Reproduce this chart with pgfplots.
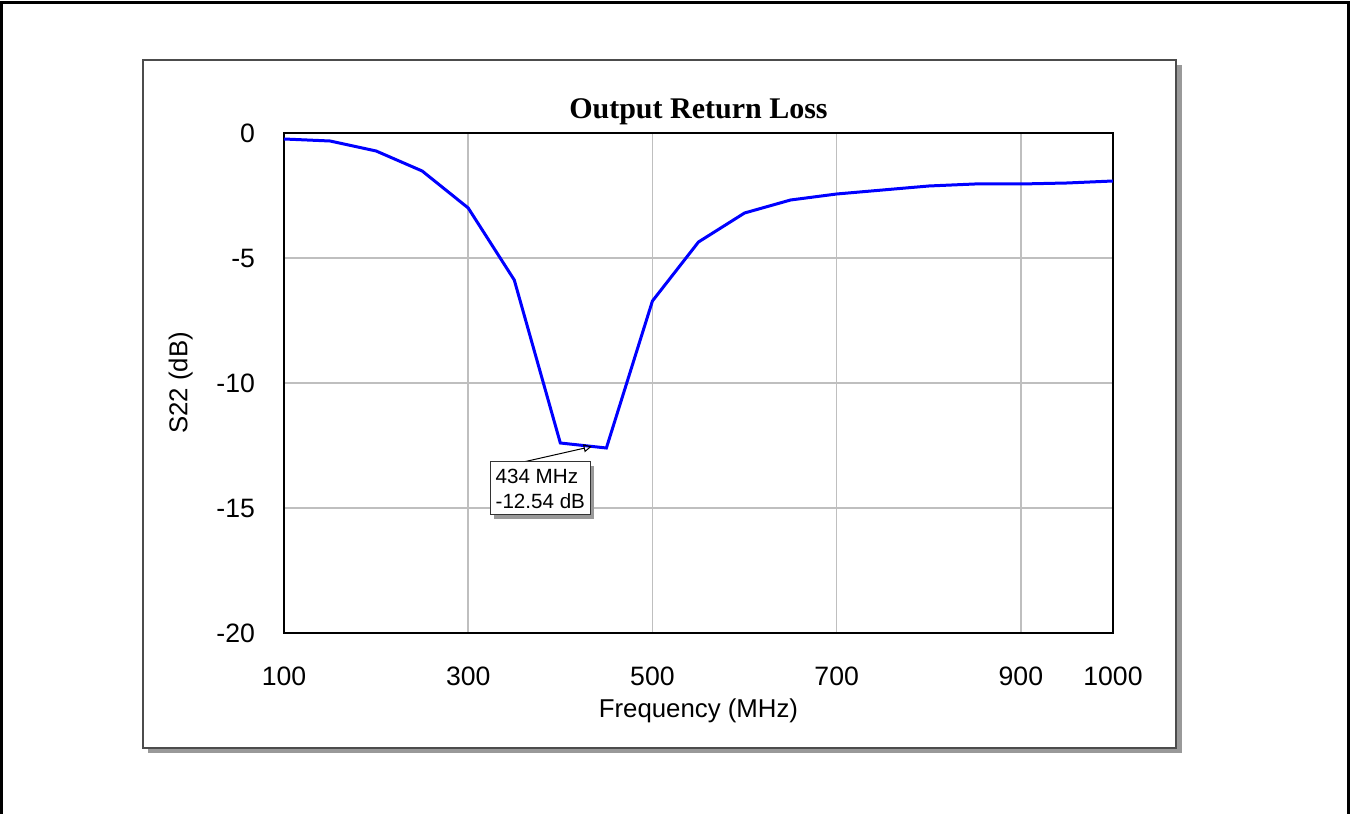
\documentclass[border=0pt]{standalone}
\usepackage{fontspec}
\setmainfont{Liberation Serif}
\setsansfont{Liberation Sans}
\usepackage{pgfplots}
\pgfplotsset{compat=1.18}
\usetikzlibrary{arrows.meta}
\begin{document}
\begin{tikzpicture}[x=1pt,y=1pt]
\useasboundingbox (0,0) rectangle (675,407);
\draw[line width=1.5pt] (0.75,0) -- (0.75,405.5) -- (674.25,405.5) -- (674.25,0);
\fill[black!40] (74,30.5) rectangle (591,374.5);
\draw[fill=white, draw=black!70, line width=0.7pt] (71.5,33) rectangle (588,377);
\begin{axis}[
  at={(142pt,90.5pt)}, anchor=south west,
  width=414.5pt, height=250pt, scale only axis,
  xmin=100, xmax=1000, ymin=-20, ymax=0,
  xtick={100,300,500,700,900,1000},
  ytick={-20,-15,-10,-5,0},
  grid=major,
  major grid style={draw=black!25, line width=0.75pt},
  major tick length=0pt,
  axis line style={line width=1pt},
  /pgf/number format/assume math mode=true,
  /pgf/number format/1000 sep={},
  ticklabel style={font=\fontsize{13.3}{15.5}\selectfont\sffamily},
  xticklabel style={yshift=-13.5pt},
  yticklabel style={xshift=-11pt},
  xlabel={Frequency (MHz)},
  ylabel={S22 (dB)},
  xlabel style={font=\fontsize{12.9}{15}\selectfont\sffamily, yshift=0.5pt},
  ylabel style={font=\fontsize{12.9}{15}\selectfont\sffamily, yshift=5pt},
  title={\textbf{Output Return Loss}},
  title style={font=\fontsize{15}{18}\selectfont, yshift=-5.5pt},
  clip=false,
]
\addplot[blue, line width=1.5pt] coordinates {
(100,-0.24) (150,-0.32) (200,-0.72) (250,-1.52) (300,-3.0) (350,-5.88)
(400,-12.4) (450,-12.6) (500,-6.72) (550,-4.36) (600,-3.2) (650,-2.68)
(700,-2.44) (750,-2.28) (800,-2.12) (850,-2.04) (900,-2.04) (950,-2.0) (1000,-1.92)
};
\draw[black, line width=0.5pt, -{Triangle[open,length=4pt,width=4pt]}] (axis cs:359.8,-13.16) -- (axis cs:434,-12.54);
\fill[black!40] (axis cs:328.3,-13.32) rectangle (axis cs:436.9,-15.44);
\node[draw=black!80, fill=white, line width=0.5pt, inner sep=0pt, minimum width=50pt, minimum height=26.5pt, align=left, font=\fontsize{10.3}{12.5}\selectfont\sffamily] at (axis cs:378.3,-14.22) {434 MHz\\-12.54 dB};
\end{axis}
\end{tikzpicture}
\end{document}
